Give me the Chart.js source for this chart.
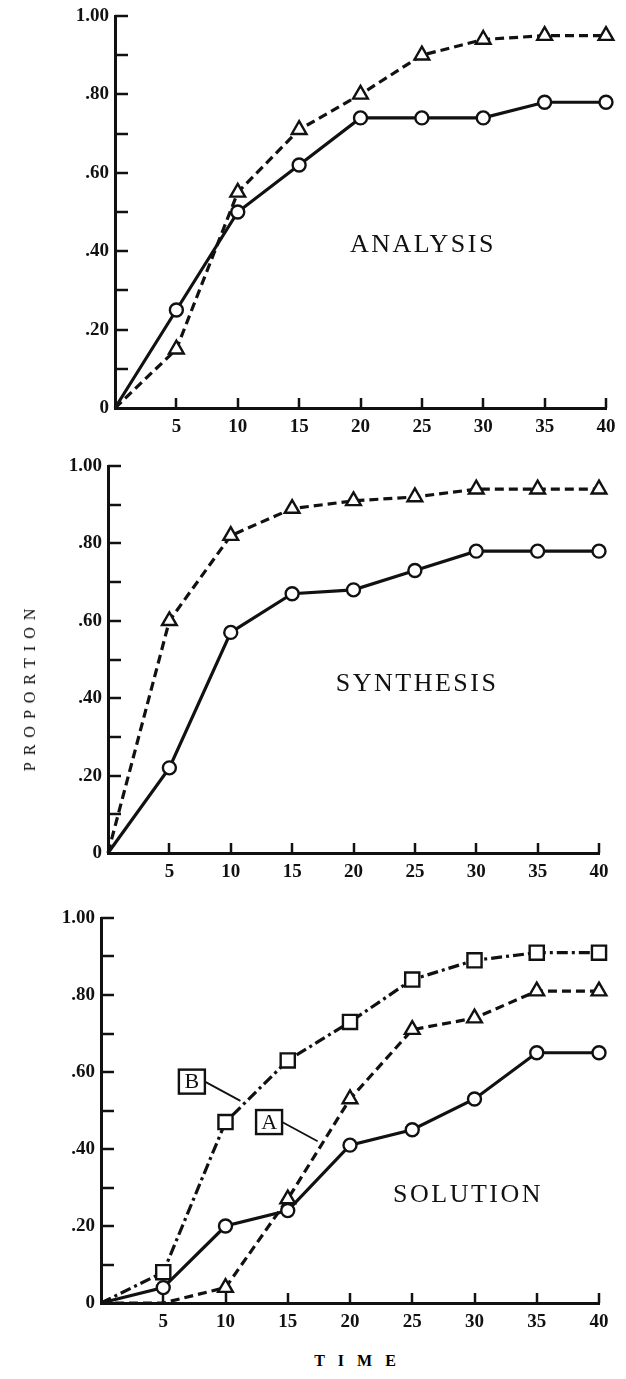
<!DOCTYPE html>
<html><head><meta charset="utf-8">
<script src="https://cdn.jsdelivr.net/npm/chart.js@4.4.1/dist/chart.umd.min.js"></script>
<style>
html,body{margin:0;padding:0;background:#fff;width:626px;height:1379px;overflow:hidden;position:relative}
.box{position:absolute;left:0;width:626px}
.lbl{position:absolute;font-family:"Liberation Serif","DejaVu Serif",serif;color:#000;white-space:nowrap;line-height:1}
</style></head><body>
<div class="box" id="b1"><canvas id="c1"></canvas></div>
<div class="box" id="b2"><canvas id="c2"></canvas></div>
<div class="box" id="b3"><canvas id="c3"></canvas></div>
<div class="lbl" id="yTitle" style="left:30px;top:690px;font-size:16px;letter-spacing:7px;padding-left:7px;transform:translate(-50%,-50%) rotate(-90deg)">PROPORTION</div>
<div class="lbl" id="xTitle" style="left:355px;top:1361px;font-size:16px;font-weight:bold;letter-spacing:13px;padding-left:13px;transform:translate(-50%,-50%)">TIME</div>
<script>
// ---- data ----
const timePoints = [0, 5, 10, 15, 20, 25, 30, 35, 40];
const xTickValues = [5, 10, 15, 20, 25, 30, 35, 40];
const yTickValues = [0.1, 0.2, 0.3, 0.4, 0.5, 0.6, 0.7, 0.8, 0.9, 1.0];
const yTickLabels = {0: '0', 2: '.20', 4: '.40', 6: '.60', 8: '.80', 10: '1.00'};

const analysisCircle   = [0, 0.25, 0.50, 0.62, 0.74, 0.74, 0.74, 0.78, 0.78];
const analysisTriangle = [0, 0.15, 0.55, 0.71, 0.80, 0.90, 0.94, 0.95, 0.95];

const synthesisCircle   = [0, 0.22, 0.57, 0.67, 0.68, 0.73, 0.78, 0.78, 0.78];
const synthesisTriangle = [0, 0.60, 0.82, 0.89, 0.91, 0.92, 0.94, 0.94, 0.94];

const solutionCircle   = [0, 0.04, 0.20, 0.24, 0.41, 0.45, 0.53, 0.65, 0.65];
const solutionTriangle = [0, 0.00, 0.04, 0.27, 0.53, 0.71, 0.74, 0.81, 0.81];
const solutionSquare   = [0, 0.08, 0.47, 0.63, 0.73, 0.84, 0.89, 0.91, 0.91];

const panelNames = ['ANALYSIS', 'SYNTHESIS', 'SOLUTION'];

// ---- layout ----
const INK = '#111';
const SERIF = '"Liberation Serif","DejaVu Serif",serif';
const panels = [
  {id:'c1', box:'b1', left:115, right:606, top:16,  bottom:408, name:[25, 0.415]},
  {id:'c2', box:'b2', left:108, right:599, top:466, bottom:853, name:[25.1, 0.435]},
  {id:'c3', box:'b3', left:101, right:599, top:918, bottom:1303, name:[29.4, 0.28],
   callouts:[{text:'B', at:[7.3, 0.575], to:[11.2, 0.525]}, {text:'A', at:[13.5, 0.47], to:[17.4, 0.42]}]}
];
const PAD_TOP = 22, XAXIS_H = 36, PAD_BOTTOM = 8;

function pts(vals){ return vals.map((v,i)=>({x:timePoints[i], y:v})); }

function circleDs(vals){
  return {data:pts(vals), clip:false, borderColor:INK, borderWidth:3.2, pointStyle:'circle',
    pointRadius: vals.map((v,i)=> i===0?0:6.5), pointBorderWidth:2.4, pointBackgroundColor:'#fff', pointBorderColor:INK, tension:0};
}
function triDs(vals, hidden){
  return {data:pts(vals), clip:false, borderColor:INK, borderWidth:3.2, borderDash:[9,5], pointStyle:'triangle',
    pointRadius: vals.map((v,i)=> (i===0 || (hidden && i<hidden))?0:8.5), pointBorderWidth:2.4, pointBackgroundColor:'#fff', pointBorderColor:INK, tension:0};
}
function sqDs(vals){
  return {data:pts(vals), clip:false, borderColor:INK, borderWidth:3.2, borderDash:[11,4,3,4], pointStyle:'rect',
    pointRadius: vals.map((v,i)=> i===0?0:10), pointBorderWidth:2.4, pointBackgroundColor:'#fff', pointBorderColor:INK, tension:0};
}

const inwardTicks = {
  id:'inwardTicks',
  beforeDatasetsDraw(chart){
    const {ctx, chartArea:a, scales:{x,y}} = chart;
    ctx.save(); ctx.strokeStyle=INK; ctx.lineWidth=2.5; ctx.lineCap='butt';
    yTickValues.forEach(v=>{ const py=Math.round(y.getPixelForValue(v)); ctx.beginPath(); ctx.moveTo(a.left, py); ctx.lineTo(a.left+13, py); ctx.stroke(); });
    xTickValues.forEach(v=>{ const px=Math.round(x.getPixelForValue(v)); ctx.beginPath(); ctx.moveTo(px, a.bottom); ctx.lineTo(px, a.bottom-10); ctx.stroke(); });
    ctx.restore();
  },
  afterDatasetsDraw(chart){
    const p = chart.options.plugins.panelInfo;
    const {ctx, scales:{x,y}} = chart;
    ctx.save(); ctx.fillStyle=INK; ctx.strokeStyle=INK;
    ctx.font = '26px '+SERIF; ctx.textAlign='center'; ctx.textBaseline='middle';
    try{ ctx.letterSpacing='2.5px'; }catch(e){}
    ctx.fillText(p.title, x.getPixelForValue(p.name[0]) + 1, y.getPixelForValue(p.name[1]));
    try{ ctx.letterSpacing='0px'; }catch(e){}
    (p.callouts||[]).forEach(c=>{
      const cx=x.getPixelForValue(c.at[0]), cy=y.getPixelForValue(c.at[1]);
      const tx=x.getPixelForValue(c.to[0]), ty=y.getPixelForValue(c.to[1]);
      const w=26, h=24;
      ctx.lineWidth=1.8;
      ctx.beginPath(); ctx.moveTo(cx+w/2, cy); ctx.lineTo(tx, ty); ctx.stroke();
      ctx.fillStyle='#fff'; ctx.fillRect(cx-w/2, cy-h/2, w, h);
      ctx.lineWidth=2.4; ctx.strokeRect(cx-w/2, cy-h/2, w, h);
      ctx.fillStyle=INK; ctx.font='22px '+SERIF; ctx.fillText(c.text, cx, cy+1);
    });
    ctx.restore();
  }
};

const seriesByPanel = [
  [circleDs(analysisCircle), triDs(analysisTriangle)],
  [circleDs(synthesisCircle), triDs(synthesisTriangle)],
  [circleDs(solutionCircle), triDs(solutionTriangle, 2), sqDs(solutionSquare)]
];

panels.forEach((p, k)=>{
  const boxTop = p.top - PAD_TOP;
  const h = (p.bottom - p.top) + PAD_TOP + XAXIS_H + PAD_BOTTOM;
  const b = document.getElementById(p.box);
  b.style.top = boxTop+'px'; b.style.height = h+'px';
  new Chart(document.getElementById(p.id), {
    type:'line',
    data:{datasets: seriesByPanel[k]},
    options:{
      responsive:true, maintainAspectRatio:false, animation:false, events:[],
      layout:{padding:{top:PAD_TOP, right:626-p.right, bottom:PAD_BOTTOM, left:0}},
      plugins:{legend:{display:false}, tooltip:{enabled:false},
        panelInfo:{title:panelNames[k], name:p.name, callouts:p.callouts}},
      scales:{
        x:{type:'linear', min:0, max:40,
          afterFit(s){ s.height = XAXIS_H; },
          grid:{display:true, drawOnChartArea:false, drawTicks:false, color:'rgba(0,0,0,0)'},
          border:{display:true, color:INK, width:3},
          ticks:{stepSize:5, autoSkip:false, maxRotation:0, padding:8, color:INK,
            font:{family:SERIF, size:19, weight:'bold'},
            callback:(v)=> v===0 ? '' : String(v)}},
        y:{type:'linear', min:0, max:1,
          afterFit(s){ s.width = p.left; },
          grid:{display:true, drawOnChartArea:false, drawTicks:false, color:'rgba(0,0,0,0)'},
          border:{display:true, color:INK, width:3},
          ticks:{stepSize:0.1, autoSkip:false, padding:6, color:INK,
            font:{family:SERIF, size:19, weight:'bold'},
            callback:(v)=>{ const n=Math.round(v*10); return yTickLabels[n] !== undefined ? yTickLabels[n] : ''; }}}
      }
    },
    plugins:[inwardTicks]
  });
});
</script>
</body></html>
